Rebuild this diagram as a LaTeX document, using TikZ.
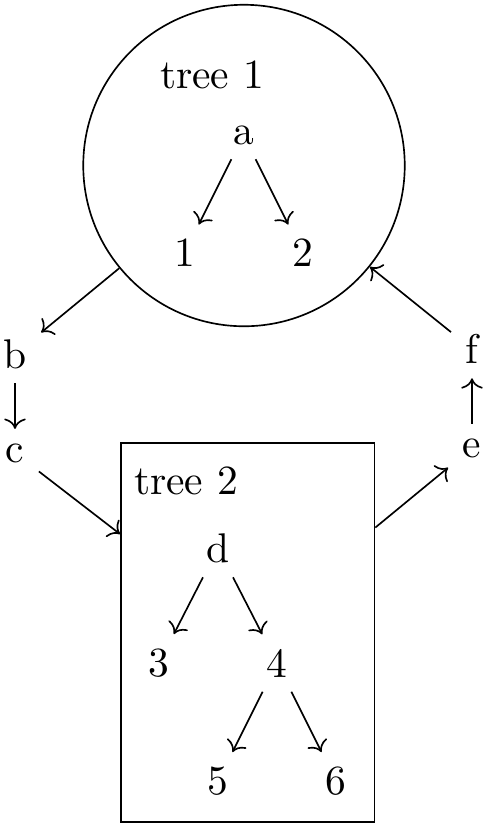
\documentclass[tikz,border=0pt]{standalone}
\usetikzlibrary{arrows.meta}
\tikzset{
  lbl/.style={inner sep=0.3333em},
  conn/.style={->},
}
\begin{document}
\begin{tikzpicture}[x=0.24096pt,y=-0.24096pt]
\useasboundingbox (0,0) rectangle (488,829);
% containers
\node[draw,circle,minimum size={321.5*0.24096pt},inner sep=0pt] (t1) at (244,165.5) {};
\node[draw,rectangle,minimum width={253.5*0.24096pt},minimum height={379*0.24096pt},inner sep=0pt] (t2) at (247.75,632.5) {};
% tree 1
\node[lbl] (t1lbl) at (212,75) {tree 1};
\node[lbl] (a) at (243.5,135) {a};
\node[lbl] (n1) at (184.5,253) {1};
\node[lbl] (n2) at (302.5,253) {2};
\draw[conn] (a) -- (n1);
\draw[conn] (a) -- (n2);
% tree 2
\node[lbl] (t2lbl) at (186,480.5) {tree 2};
\node[lbl] (d) at (218,548) {d};
\node[lbl] (n3) at (159,663) {3};
\node[lbl] (n4) at (277,663) {4};
\node[lbl] (n5) at (218,781) {5};
\node[lbl] (n6) at (336,781) {6};
\draw[conn] (d) -- (n3);
\draw[conn] (d) -- (n4);
\draw[conn] (n4) -- (n5);
\draw[conn] (n4) -- (n6);
% outer nodes
\node[lbl] (b) at (15,354) {b};
\node[lbl] (c) at (15,453) {c};
\node[lbl] (f) at (472,349) {f};
\node[lbl] (e) at (472,448) {e};
\draw[conn] (t1) -- (b);
\draw[conn] (b) -- (c);
\draw[conn] (c) -- (t2);
\draw[conn] (t2) -- (e);
\draw[conn] (e) -- (f);
\draw[conn] (f) -- (t1);
\end{tikzpicture}
\end{document}
